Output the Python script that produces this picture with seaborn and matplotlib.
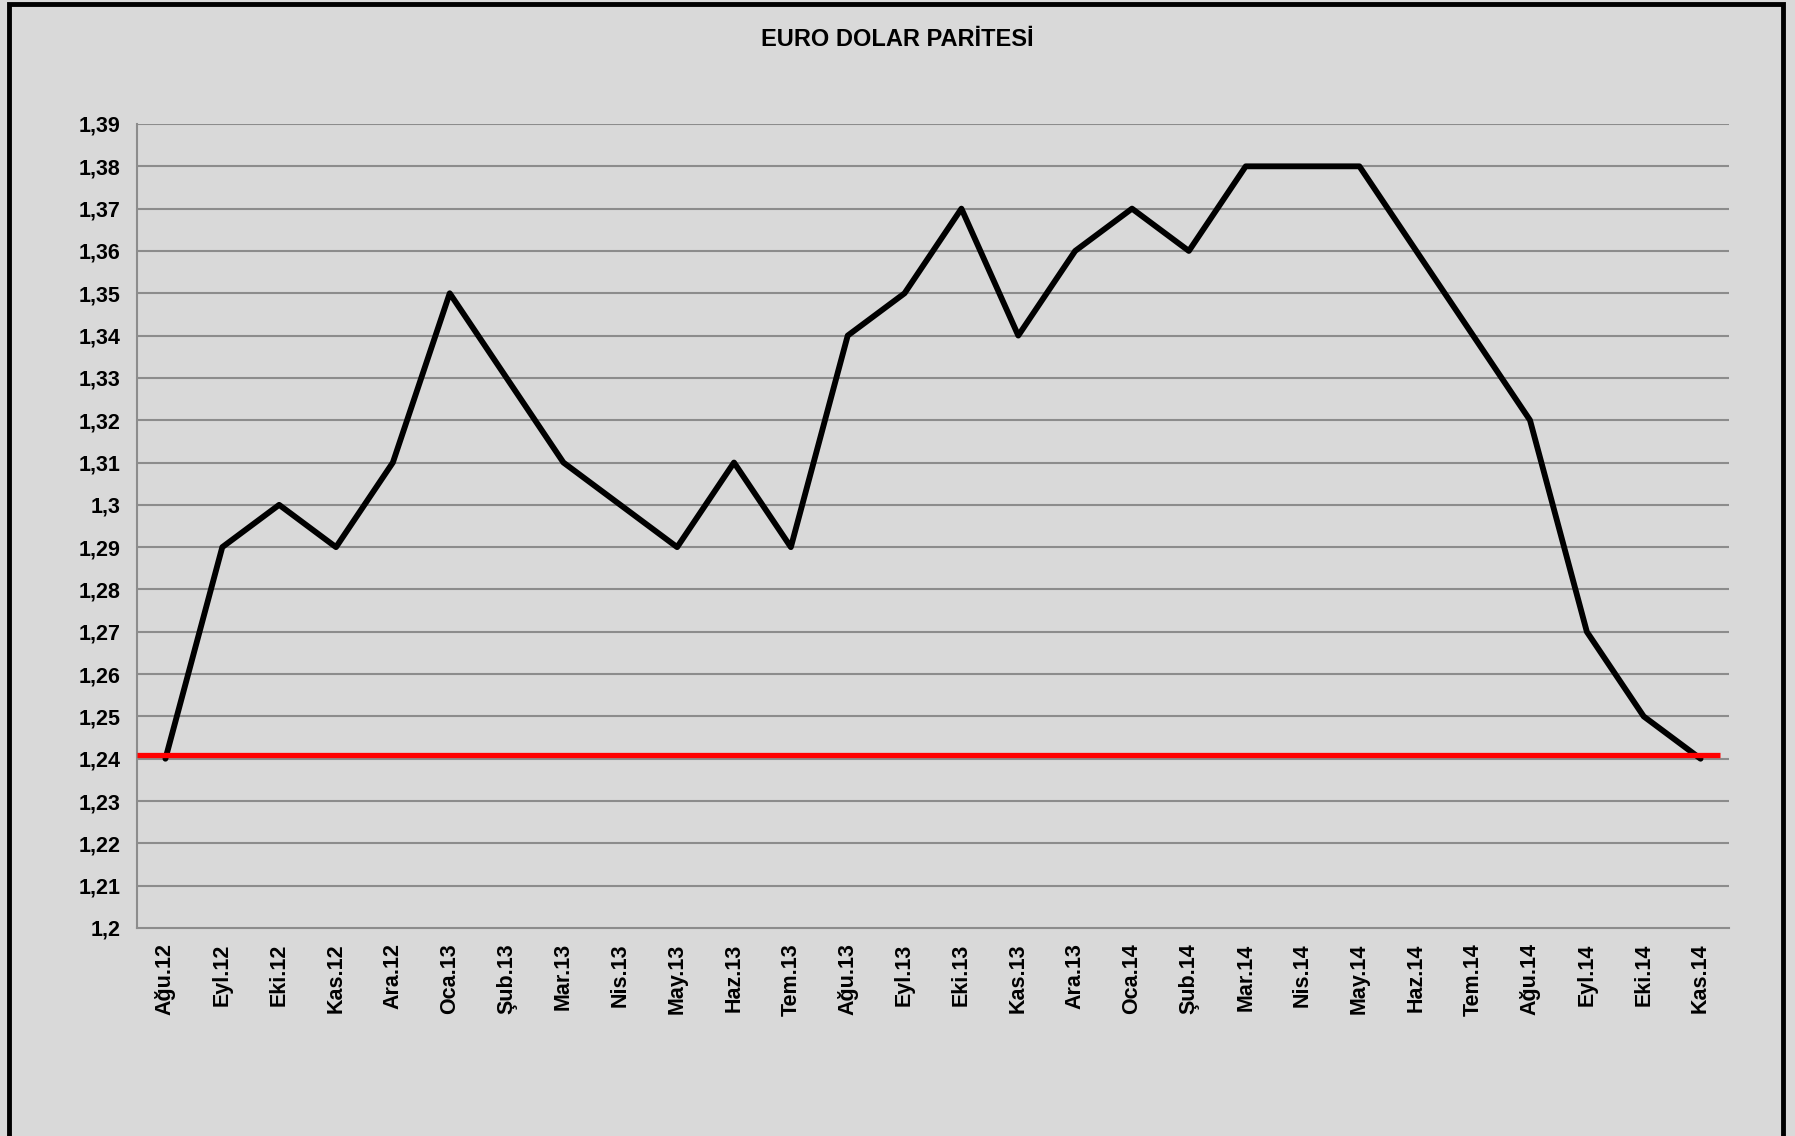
import matplotlib
matplotlib.use("Agg")
import matplotlib.pyplot as plt
import seaborn as sns
import pandas as pd
import numpy as np
from matplotlib.patches import Rectangle

months = ["Ağu.12", "Eyl.12", "Eki.12", "Kas.12", "Ara.12", "Oca.13", "Şub.13",
          "Mar.13", "Nis.13", "May.13", "Haz.13", "Tem.13", "Ağu.13", "Eyl.13",
          "Eki.13", "Kas.13", "Ara.13", "Oca.14", "Şub.14", "Mar.14", "Nis.14",
          "May.14", "Haz.14", "Tem.14", "Ağu.14", "Eyl.14", "Eki.14", "Kas.14"]
rates = [1.24, 1.29, 1.30, 1.29, 1.31, 1.35, 1.33, 1.31, 1.30, 1.29, 1.31, 1.29,
         1.34, 1.35, 1.37, 1.34, 1.36, 1.37, 1.36, 1.38, 1.38, 1.38, 1.36, 1.34,
         1.32, 1.27, 1.25, 1.24]
reference_level = 1.241
y_ticks = [1.20, 1.21, 1.22, 1.23, 1.24, 1.25, 1.26, 1.27, 1.28, 1.29, 1.30,
           1.31, 1.32, 1.33, 1.34, 1.35, 1.36, 1.37, 1.38, 1.39]
y_tick_labels = ["1,2", "1,21", "1,22", "1,23", "1,24", "1,25", "1,26", "1,27",
                 "1,28", "1,29", "1,3", "1,31", "1,32", "1,33", "1,34", "1,35",
                 "1,36", "1,37", "1,38", "1,39"]
title = "EURO DOLAR PARİTESİ"

sns.set_style("white", {"axes.facecolor": "#d9d9d9", "figure.facecolor": "#d9d9d9"})
plt.rcParams['font.family'] = ['Liberation Sans', 'DejaVu Sans']
plt.rcParams['font.weight'] = 'bold'
plt.rcParams['text.color'] = 'black'

df = pd.DataFrame({"pos": np.arange(len(months)), "rate": rates})

fig = plt.figure(figsize=(17.95, 11.36), dpi=100)
fig.patch.set_facecolor("#d9d9d9")
ax = fig.add_axes([137/1795, 1 - 928/1136, (1729-137)/1795, (928-124)/1136])
ax.set_facecolor("#d9d9d9")

grid_color = "#8c8c8c"
for yv in y_ticks[1:]:
    ax.axhline(yv, color=grid_color, lw=1.5, zorder=1)

sns.lineplot(data=df, x="pos", y="rate", color="black", lw=4.2, ax=ax, zorder=3)
ax.plot([-0.5, 27.35], [reference_level, reference_level], color="#ff0000", lw=3.8,
        solid_capstyle="butt", zorder=4)

ax.set_xlim(-0.5, len(months) - 0.5)
ax.set_ylim(1.20, 1.39)
ax.set_yticks(y_ticks)
ax.set_yticklabels(y_tick_labels, fontsize=15.5, fontweight="bold", color="black")
ax.set_xticks(np.arange(len(months)))
ax.set_xticklabels(months, rotation=90, fontsize=15.5, fontweight="bold", color="black")
ax.set_xticks(np.arange(-0.5, len(months)), minor=True)
ax.tick_params(axis="x", which="major", length=0, pad=11, labelcolor="black")
ax.tick_params(axis="x", which="minor", length=5, width=1.5, color=grid_color, direction="out")
ax.tick_params(axis="y", length=6, width=1.5, color=grid_color, direction="out", pad=6,
               labelcolor="black")
ax.set_xlabel("")
ax.set_ylabel("")

for side in ["top", "right"]:
    ax.spines[side].set_visible(False)
for side in ["left", "bottom"]:
    ax.spines[side].set_color(grid_color)
    ax.spines[side].set_linewidth(1.5)

fig.text(0.5, 1 - 40/1136, title, ha="center", va="center", fontsize=17,
         fontweight="bold", color="black")

fig.patches.append(Rectangle((8.5/1795, -0.02), (1783 - 8.5)/1795, 1 - 3.5/1136 + 0.02,
                             transform=fig.transFigure, fill=False, edgecolor="black",
                             lw=3.5, zorder=10))

fig.savefig("out.png", dpi=100, facecolor=fig.get_facecolor())
